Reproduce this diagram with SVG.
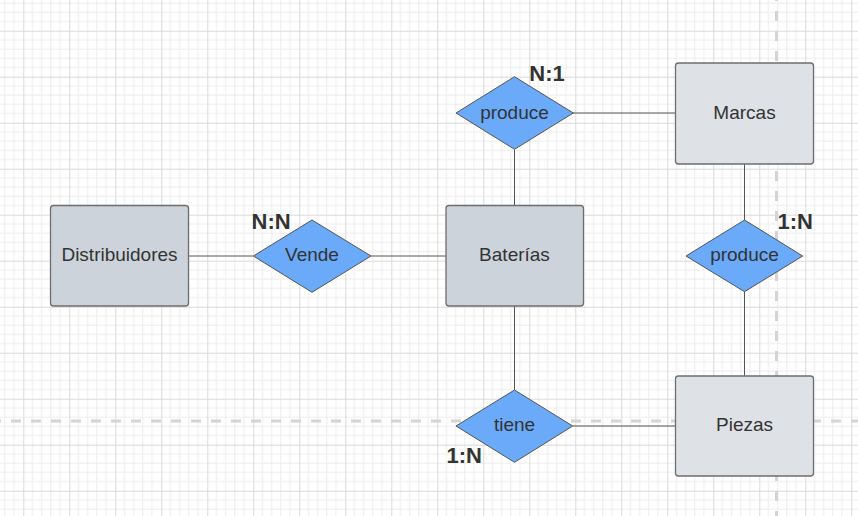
<svg xmlns="http://www.w3.org/2000/svg" width="858" height="516" viewBox="0 0 858 516">
<defs>
<pattern id="grid" patternUnits="userSpaceOnUse" x="23.3" y="30.7" width="46" height="46">
<path d="M9.2 0V46M18.4 0V46M27.6 0V46M36.8 0V46M0 9.2H46M0 18.4H46M0 27.6H46M0 36.8H46" stroke="#ececec" stroke-width="1" fill="none"/>
<path d="M0.5 0V46M0 0.5H46" stroke="#d9d9d9" stroke-width="1" fill="none"/>
</pattern>
<style>
.ent{stroke:#6e6e6e;stroke-width:1.3}
.dark{fill:#cdd3da}
.light{fill:#dee1e6}
.rel{fill:#6aaaf8;stroke:#555;stroke-width:1}
.lbl{font-family:"Liberation Sans",Arial,sans-serif;font-size:19px;fill:#333;text-anchor:middle}
.card{font-family:"Liberation Sans",Arial,sans-serif;font-size:22px;font-weight:bold;fill:#333}
.con{stroke:#555;stroke-width:1;fill:none}
.guide{stroke:#d4d4d4;stroke-width:3;stroke-dasharray:10 10;fill:none}
</style>
</defs>
<rect width="858" height="516" fill="#ffffff"/>
<rect width="858" height="516" fill="url(#grid)"/>
<path class="guide" d="M0 421H858" stroke-dashoffset="9"/>
<path class="guide" d="M776.5 0V516" stroke-dashoffset="9"/>
<g id="connectors">
<path class="con" d="M188.5 256H253"/>
<path class="con" d="M371 256H446"/>
<path class="con" d="M514.5 205.5V149.5"/>
<path class="con" d="M573 113H675.5"/>
<path class="con" d="M744.5 164V220"/>
<path class="con" d="M744.5 292V376"/>
<path class="con" d="M514.5 306V390"/>
<path class="con" d="M573 426H675.5"/>
</g>
<g id="distribuidores">
<rect class="ent dark" x="50.5" y="205.5" width="138" height="100.5" rx="3"/>
<text class="lbl" x="119.5" y="260.5">Distribuidores</text>
</g>
<g id="baterias">
<rect class="ent dark" x="446" y="205.5" width="137.5" height="100.5" rx="3"/>
<text class="lbl" x="514.5" y="260.5">Baterías</text>
</g>
<g id="marcas">
<rect class="ent light" x="675.5" y="63" width="138" height="101" rx="3"/>
<text class="lbl" x="744.5" y="119">Marcas</text>
</g>
<g id="piezas">
<rect class="ent light" x="675.5" y="376" width="138" height="100" rx="3"/>
<text class="lbl" x="744.5" y="430.5">Piezas</text>
</g>
<g id="vende">
<path class="rel" d="M312 220L371 256L312 292.3L253.3 256Z"/>
<text class="lbl" x="312" y="261">Vende</text>
</g>
<g id="produce-top">
<path class="rel" d="M514.5 76.7L573.3 113L514.5 149.3L456 113Z"/>
<text class="lbl" x="514.5" y="118.5">produce</text>
</g>
<g id="produce-right">
<path class="rel" d="M744.5 220L802.7 256L744.5 291.7L686 256Z"/>
<text class="lbl" x="744.5" y="261">produce</text>
</g>
<g id="tiene">
<path class="rel" d="M514.5 390L572.7 426L514.5 462.3L456 426Z"/>
<text class="lbl" x="514.5" y="430.5">tiene</text>
</g>
<g id="cardinalities">
<text class="card" x="529.3" y="81">N:1</text>
<text class="card" x="251.5" y="228.5">N:N</text>
<text class="card" x="777.5" y="228.5">1:N</text>
<text class="card" x="446.5" y="462.7">1:N</text>
</g>
</svg>
